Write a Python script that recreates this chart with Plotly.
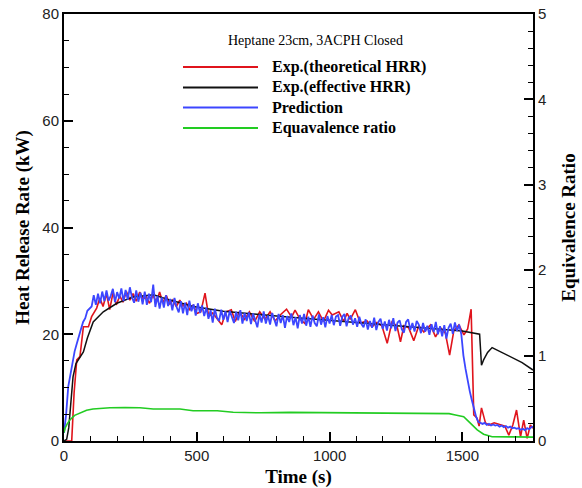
import plotly.graph_objects as go

# ---------------- data ----------------
# Experimental (theoretical HRR), kW
red_t = [0, 10, 20, 29, 38, 48, 60, 67, 73, 92, 104, 123, 135, 147, 160, 172, 185, 197, 210, 222,
         235, 248, 260, 272, 285, 298, 310, 322, 335, 348, 360, 372, 385, 398, 410, 423, 436, 448,
         461, 474, 487, 500, 515, 531, 545, 560, 575, 594, 610, 630, 645, 660, 680, 698, 718, 737,
         757, 776, 795, 814, 838, 857, 870, 888, 907, 920, 940, 958, 977, 996, 1010, 1035, 1053,
         1066, 1078, 1097, 1116, 1141, 1160, 1178, 1197, 1217, 1235, 1254, 1267, 1280, 1298, 1317,
         1336, 1355, 1380, 1399, 1418, 1436, 1452, 1468, 1487, 1506, 1520, 1533, 1543, 1555, 1563,
         1572, 1587, 1600, 1620, 1640, 1660, 1675, 1690, 1704, 1719, 1731, 1744, 1756, 1766]
red_y = [0, 0, 0, 0, 9.0, 15.2, 15.8, 19.0, 21.4, 21.4, 23.3, 24.9, 26.8, 25.2, 27.6, 24.6, 27.9,
         25.5, 27.2, 26.0, 28.0, 26.4, 27.6, 26.2, 27.9, 26.6, 27.0, 25.8, 27.3, 26.0, 27.9, 25.9,
         27.3, 25.6, 26.4, 25.2, 26.4, 25.3, 25.8, 24.6, 25.5, 23.9, 24.2, 27.7, 23.3, 24.0, 23.0,
         21.8, 24.2, 24.6, 22.4, 24.2, 22.8, 24.2, 22.4, 24.2, 22.8, 24.2, 22.5, 23.6, 24.7, 23.2,
         24.5, 22.9, 22.0, 24.6, 22.8, 24.2, 22.4, 24.5, 23.6, 24.2, 22.4, 23.9, 22.8, 24.6, 22.1,
         22.5, 21.4, 22.2, 21.6, 18.3, 22.3, 21.5, 18.6, 21.6, 21.2, 18.8, 21.6, 20.4, 21.75, 19.5,
         21.2, 20.2, 16.1, 20.7, 21.75, 19.9, 21.0, 24.7, 4.9, 4.3, 2.8, 6.2, 3.4, 3.0, 3.4, 3.1,
         2.8, 1.1, 3.0, 5.8, 0.8, 3.9, 0.5, 3.0, 2.4]

# Experimental (effective HRR), kW
black_t = [0, 10, 18, 23, 28, 34, 45, 60, 73, 88, 110, 148, 199, 261, 337, 400, 487, 600, 700, 800,
           900, 1000, 1100, 1200, 1300, 1400, 1500, 1565, 1572, 1580, 1595, 1612, 1640, 1675, 1725,
           1766]
black_y = [0, 0.3, 2.5, 5.2, 9.0, 12.0, 14.5, 15.8, 16.7, 19.3, 22.3, 24.2, 25.8, 27.0, 27.4, 26.4,
           25.2, 24.3, 23.8, 23.4, 23.0, 22.6, 22.2, 21.8, 21.4, 21.0, 20.6, 20.0, 14.2, 15.2, 16.6,
           17.5, 16.8, 15.8, 14.7, 13.3]

# Prediction, kW (sampled every 8 s, last point at 1766 s)
blue_t = list(range(0, 1761, 8)) + [1766]
blue_y = (
    [1.5, 5.0, 10.2, 12.5, 14.8, 16.8, 18.2, 19.9, 21.0, 22.3, 23.0, 24.4, 24.8]
    + [25.2, 27.3, 25.5, 27.6, 25.8, 28.0, 26.2, 28.2, 26.3, 27.2, 28.5, 26.0, 27.9]
    + [26.7, 28.6, 26.2, 28.3, 26.5, 28.8, 26.9, 25.9, 28.2, 26.1, 27.8, 25.6, 28.0, 25.5, 27.6,
       26.0, 29.3]
    + [25.1, 27.2, 24.8, 26.9, 25.0, 27.3, 25.3, 26.6, 24.5, 26.8, 25.1]
    + [24.1, 26.2, 23.9, 25.9, 23.6, 26.3, 24.3, 25.6, 23.5, 25.8, 24.0, 25.4, 23.4]
    + [25.0, 22.9, 24.5, 22.2, 24.8, 23.1, 22.5, 24.6, 22.7, 24.3,
       22.3, 24.4, 23.0, 22.1, 24.2, 22.6, 24.5, 22.0, 24.0, 22.5,
       24.1, 21.9, 23.9, 22.4, 21.3, 23.7, 22.2, 24.3, 22.0, 23.5,
       21.8, 24.0, 22.5, 21.5, 23.8, 22.1, 23.6, 21.2, 23.4, 22.3,
       23.9, 21.7, 23.2, 21.1, 23.6, 22.0, 23.8, 21.6, 23.3, 21.4,
       23.5, 22.1, 21.5, 23.7, 21.8, 23.2, 21.3, 23.4, 22.0, 23.6,
       21.7, 23.3]
    + [23.6, 21.6, 23.3, 23.8, 21.5, 23.1, 23.5, 21.8, 23.0, 21.4, 23.3, 21.9, 21.3]
    + [22.8, 20.9, 22.5, 21.2, 23.1, 20.8, 22.3, 22.9, 21.0, 22.4, 20.7, 22.7, 21.1, 23.0, 20.6,
       22.2, 22.6, 20.9, 20.3, 22.3, 22.8, 20.8, 22.1, 20.5, 22.5]
    + [21.8, 20.2, 22.1, 20.5, 21.6, 19.9, 21.9, 20.4, 22.3, 20.0, 21.5, 19.6, 21.7, 19.2, 21.2,
       22.0, 20.1, 22.2, 20.6, 21.8, 20.0]
    + [16.0, 13.5, 11.0, 9.3, 7.6, 5.9, 4.5, 3.6, 3.4, 3.2, 3.4, 3.0, 3.2, 2.9, 3.1, 2.9, 3.0, 2.7,
       2.9, 2.6, 2.8, 2.5, 2.7, 2.4, 2.5, 2.3, 2.4, 2.1, 2.3, 2.0, 2.4, 2.2, 2.6]
    + [2.7]
)

# Equivalence ratio (right axis)
green_t = [0, 4, 12, 23, 40, 60, 85, 109, 140, 173, 230, 286, 336, 437, 486, 577, 637, 739, 850,
           1000, 1150, 1300, 1450, 1474, 1505, 1530, 1556, 1580, 1612, 1700, 1766]
green_y = [0.10, 0.15, 0.20, 0.25, 0.30, 0.33, 0.36, 0.375, 0.385, 0.39, 0.392, 0.39, 0.375,
           0.375, 0.355, 0.355, 0.336, 0.33, 0.335, 0.33, 0.325, 0.322, 0.32, 0.305, 0.285, 0.21,
           0.13, 0.08, 0.05, 0.048, 0.045]

series_names = ["Exp.(theoretical HRR)", "Exp.(effective HRR)", "Prediction", "Equavalence ratio"]
legend_title = "Heptane 23cm, 3ACPH Closed"

# ---------------- styles ----------------
W, H = 582, 488
ML, MR, MT, MB = 64, 49, 14, 47
PW, PH = W - ML - MR, H - MT - MB
C_RED, C_BLACK, C_BLUE, C_GREEN = "#e0141c", "#111111", "#3c46ff", "#22cc22"
SANS = "Liberation Sans, Arial, sans-serif"
SERIF = "Liberation Serif, Times New Roman, serif"


def px2paper(x, y):
    return (x - ML) / PW, (H - MB - y) / PH


fig = go.Figure()
fig.add_trace(go.Scatter(x=green_t, y=green_y, mode="lines", name=series_names[3], yaxis="y2",
                         line=dict(color=C_GREEN, width=1.6), showlegend=False))
fig.add_trace(go.Scatter(x=red_t, y=red_y, mode="lines", name=series_names[0],
                         line=dict(color=C_RED, width=1.6), showlegend=False))
fig.add_trace(go.Scatter(x=black_t, y=black_y, mode="lines", name=series_names[1],
                         line=dict(color=C_BLACK, width=1.5), showlegend=False))
fig.add_trace(go.Scatter(x=blue_t, y=blue_y, mode="lines", name=series_names[2],
                         line=dict(color=C_BLUE, width=1.8), showlegend=False))

axis_common = dict(showline=True, linecolor="black", linewidth=2, ticks="inside", ticklen=9,
                   tickwidth=2, tickcolor="black", showgrid=False, zeroline=False,
                   tickfont=dict(family=SANS, size=15, color="#222"))
title_font = dict(family=SERIF, size=19, color="black")

fig.update_layout(
    width=W, height=H, margin=dict(l=ML, r=MR, t=MT, b=MB, autoexpand=False),
    paper_bgcolor="white", plot_bgcolor="white", showlegend=False,
    xaxis=dict(range=[0, 1766], dtick=500, tick0=0, mirror=True,
               minor=dict(dtick=100, ticks="inside", ticklen=5, tickwidth=1, tickcolor="black"),
               title=dict(text="<b>Time (s)</b>", font=title_font, standoff=8),
               **axis_common),
    yaxis=dict(range=[0, 80], dtick=20, tick0=0, mirror=True,
               minor=dict(dtick=5, ticks="inside", ticklen=5, tickwidth=1, tickcolor="black"),
               title=dict(text="<b>Heat Release Rate (kW)</b>", font=title_font, standoff=8),
               **axis_common),
    yaxis2=dict(range=[0, 5], dtick=1, tick0=0, overlaying="y", side="right",
                minor=dict(dtick=0.2, ticks="inside", ticklen=5, tickwidth=1, tickcolor="black"),
                title=dict(text="<b>Equivalence Ratio</b>", font=title_font, standoff=16),
                **axis_common),
)

# legend drawn in the plot: title + sample lines + labels
tx, ty = px2paper(315, 41)
fig.add_annotation(x=tx, y=ty, xref="paper", yref="paper", text=legend_title, showarrow=False,
                   xanchor="center", yanchor="middle", font=dict(family=SERIF, size=14, color="black"))
legend_colors = [C_RED, C_BLACK, C_BLUE, C_GREEN]
legend_rows = [67, 87.5, 107.5, 128]
for name, col, ry in zip(series_names, legend_colors, legend_rows):
    x0, y0 = px2paper(183, ry)
    x1, _ = px2paper(258, ry)
    fig.add_shape(type="line", xref="paper", yref="paper", x0=x0, x1=x1, y0=y0, y1=y0,
                  line=dict(color=col, width=1.8))
    lx, ly = px2paper(270, ry)
    fig.add_annotation(x=lx, y=ly, xref="paper", yref="paper", text="<b>%s</b>" % name,
                       showarrow=False, xanchor="left", yanchor="middle",
                       font=dict(family=SERIF, size=16, color="black"))

fig.write_html("out.html")
